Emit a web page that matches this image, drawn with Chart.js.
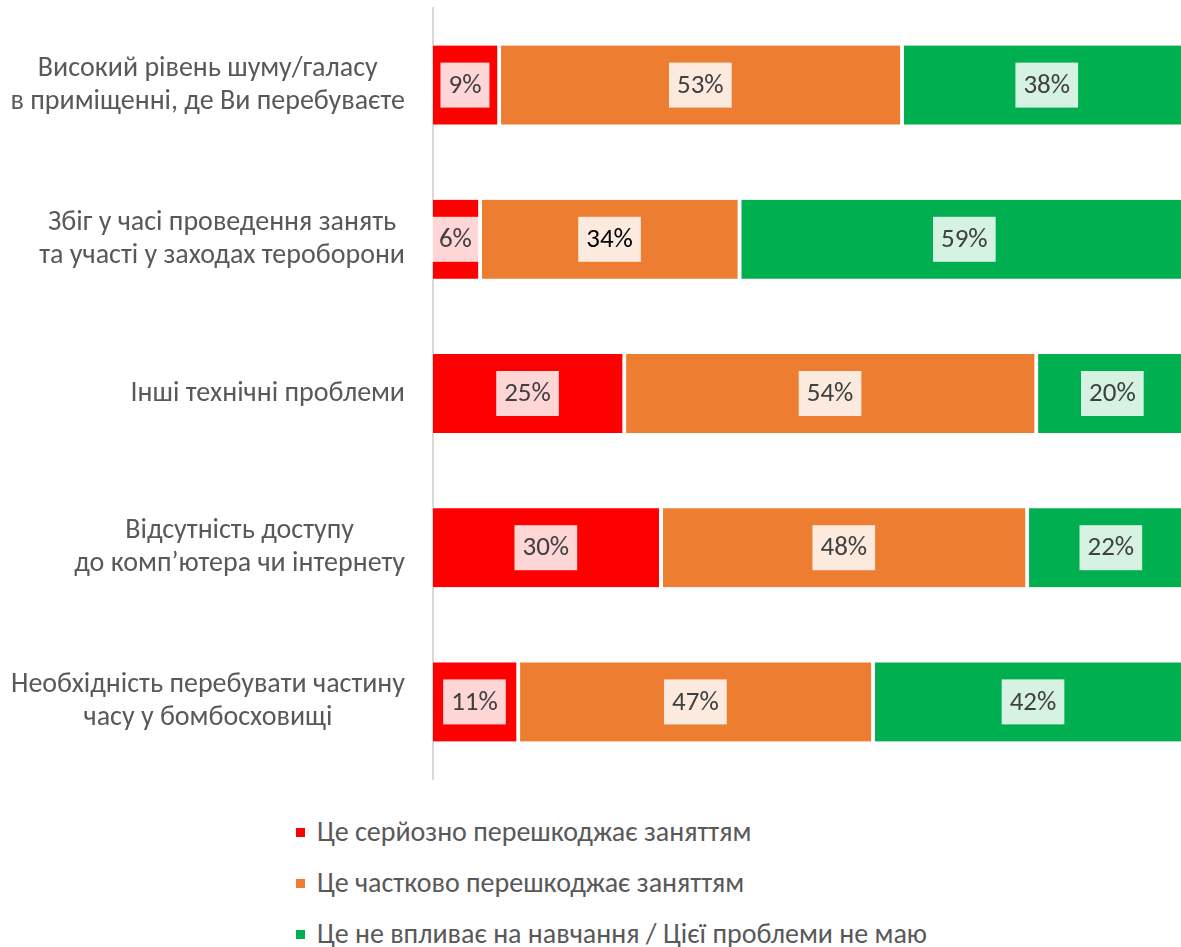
<!DOCTYPE html>
<html>
<head>
<meta charset="utf-8">
<script src="https://cdn.jsdelivr.net/npm/chart.js@4"></script>
<style>
  html, body { margin: 0; padding: 0; background: #fff; overflow: hidden; }
  /* область графіка трохи ширша за вікно: правий край обрізано, як в оригіналі */
  #wrap { position: relative; width: 1196px; height: 790px; }
  #legend { margin: 25px 0 0 296px; font-family: Calibri, Carlito, Lato, "Open Sans", sans-serif; font-size: 28px; color: #595959; }
  #legend div { height: 51px; line-height: 34px; }
  #legend span.box { display: inline-block; width: 9px; height: 9px; margin-right: 12px; vertical-align: 4px; }
</style>
</head>
<body>
<div id="wrap"><canvas id="chart"></canvas></div>
<div id="legend"></div>
<script>
/* --- дані --- */
const categories = [
    ["Високий рівень шуму/галасу", "в приміщенні, де Ви перебуваєте"],
    ["Збіг у часі проведення занять", "та участі у заходах тероборони"],
    "Інші технічні проблеми",
    ["Відсутність доступу", "до комп’ютера чи інтернету"],
    ["Необхідність перебувати частину", "часу у бомбосховищі"]
];
const seriesNames = [
    "Це серйозно перешкоджає заняттям",
    "Це частково перешкоджає заняттям",
    "Це не впливає на навчання / Цієї проблеми не маю"
];
const seriousValues = [8.9, 6.4, 25.3, 30.1, 11.4];
const partialValues = [52.8, 34.0, 54.0, 48.0, 46.5];
const noneValues = [38, 59, 20, 22, 42];
const seriesColors = ["#FF0000", "#ED7D31", "#00B050"];

const FONT = 'Calibri, Carlito, Lato, "Open Sans", sans-serif';

/* --- підписи категорій: блок праворуч, рядки по центру --- */
const categoryLabels = {
    id: "categoryLabels",
    afterDraw(chart) {
        const ctx = chart.ctx;
        const y = chart.scales.y;
        const right = y.right - 28;
        ctx.save();
        ctx.font = "28px " + FONT;
        ctx.fillStyle = "#595959";
        ctx.textAlign = "center";
        ctx.textBaseline = "middle";
        categories.forEach((lab, i) => {
            const lines = Array.isArray(lab) ? lab : [lab];
            const blockW = Math.max(...lines.map(l => ctx.measureText(l).width));
            const cx = right - blockW / 2;
            const py = y.getPixelForValue(i);
            lines.forEach((l, j) => {
                ctx.fillText(l, cx, py + (j - (lines.length - 1) / 2) * 33);
            });
        });
        ctx.restore();
    }
};

/* --- підписи значень з білою підкладкою --- */
const valueLabels = {
    id: "valueLabels",
    afterDatasetsDraw(chart) {
        const ctx = chart.ctx;
        ctx.save();
        ctx.font = "27px " + FONT;
        ctx.textAlign = "center";
        ctx.textBaseline = "middle";
        chart.data.datasets.forEach((ds, di) => {
            chart.getDatasetMeta(di).data.forEach((bar, i) => {
                const txt = Math.round(ds.data[i]) + "%";
                const cx = (bar.base + bar.x - 4) / 2;
                const w = ctx.measureText(txt).width + 16;
                const h = 45;
                ctx.fillStyle = "rgba(255,255,255,0.84)";
                ctx.fillRect(cx - w / 2, bar.y - h / 2, w, h);
                ctx.fillStyle = (di === 1 && i === 1) ? "#000" : "#404040";
                ctx.fillText(txt, cx, bar.y + 1);
            });
        });
        ctx.restore();
    }
};

const datasets = [seriousValues, partialValues, noneValues].map((vals, k) => ({
    label: seriesNames[k],
    data: vals,
    backgroundColor: seriesColors[k],
    borderColor: "#fff",
    borderWidth: { right: 4 },
    borderSkipped: false,
    barThickness: 79
}));

new Chart(document.getElementById("chart"), {
    type: "bar",
    data: { labels: categories, datasets: datasets },
    options: {
        indexAxis: "y",
        responsive: true,
        maintainAspectRatio: false,
        animation: false,
        layout: { padding: { top: 8, bottom: 11, left: 0, right: 0 } },
        plugins: { legend: { display: false }, tooltip: { enabled: false } },
        scales: {
            x: { stacked: true, min: 0, max: 100, display: false },
            y: {
                stacked: true,
                grid: { display: false, drawTicks: false },
                border: { display: true, color: "#D9D9D9", width: 2 },
                ticks: { display: false },
                afterFit(scale) {
                    scale.width = 433;
                    scale.paddingTop = 0;
                    scale.paddingBottom = 0;
                }
            }
        }
    },
    plugins: [valueLabels, categoryLabels]
});

/* --- легенда --- */
const legend = document.getElementById("legend");
seriesNames.forEach((name, k) => {
    const row = document.createElement("div");
    row.innerHTML = '<span class="box" style="background:' + seriesColors[k] + '"></span>' + name;
    legend.appendChild(row);
});
</script>
</body>
</html>
